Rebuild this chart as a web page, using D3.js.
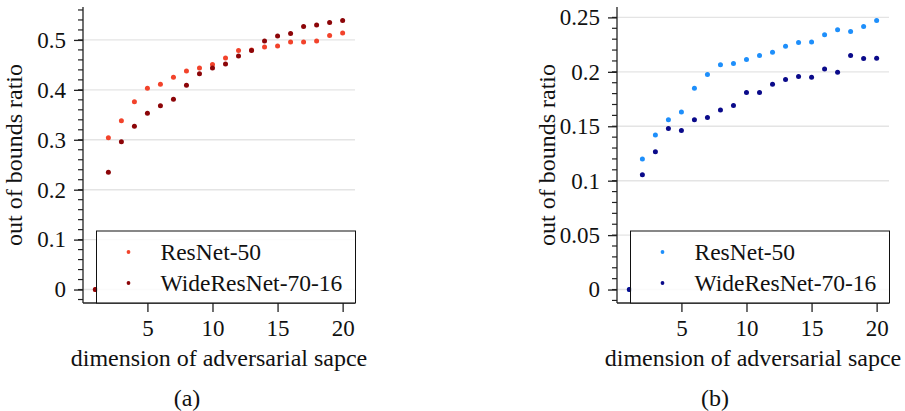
<!DOCTYPE html>
<html>
<head>
<meta charset="utf-8">
<script src="https://cdn.jsdelivr.net/npm/d3@7"></script>
<style>
  html, body { margin: 0; padding: 0; background: #fff; }
  svg { display: block; }
  svg text { font-family: "Liberation Serif", "DejaVu Serif", serif !important; fill: #111; }
</style>
</head>
<body>
<div id="chart"></div>
<script>
// dimension of adversarial space
const dims = [1, 2, 3, 4, 5, 6, 7, 8, 9, 10, 11, 12, 13, 14, 15, 16, 17, 18, 19, 20];

// (a) out of bounds ratio
const resnetA = [0, 0.304, 0.338, 0.376, 0.403, 0.411, 0.425, 0.438, 0.444, 0.451,
                 0.464, 0.479, 0.480, 0.486, 0.488, 0.496, 0.496, 0.498, 0.509, 0.514];
const wideA   = [0, 0.235, 0.296, 0.327, 0.353, 0.368, 0.381, 0.409, 0.432, 0.444,
                 0.452, 0.468, 0.479, 0.498, 0.508, 0.513, 0.527, 0.530, 0.535, 0.539];

// (b) out of bounds ratio
const resnetB = [0, 0.120, 0.142, 0.156, 0.163, 0.185, 0.1975, 0.2065, 0.2077, 0.2113,
                 0.215, 0.218, 0.2236, 0.227, 0.2273, 0.234, 0.2386, 0.237, 0.2417, 0.2472];
const wideB   = [0, 0.1055, 0.1267, 0.1479, 0.146, 0.156, 0.158, 0.165, 0.169, 0.181,
                 0.181, 0.1886, 0.193, 0.1957, 0.195, 0.2027, 0.1997, 0.215, 0.2123, 0.2125];

const seriesNames = ['ResNet-50', 'WideResNet-70-16'];
const xTicks = [5, 10, 15, 20];
const yTicksA = [0, 0.1, 0.2, 0.3, 0.4, 0.5];
const yTicksB = [0, 0.05, 0.1, 0.15, 0.2, 0.25];

const W = 905, H = 411;
const FONT = '"Liberation Serif", "DejaVu Serif", serif';

const svg = d3.select('#chart').append('svg')
    .attr('width', W)
    .attr('height', H);

svg.append('rect').attr('width', W).attr('height', H).attr('fill', '#fff');

function pad(ext) {
    const m = (ext[1] - ext[0]) * 0.05;
    return [ext[0] - m, ext[1] + m];
}

function label(sel, size) {
    return sel.style('font-family', FONT).style('font-size', size + 'px').style('fill', '#111');
}

function drawPanel(o) {
    const g = svg.append('g');
    const xs = d3.scaleLinear().domain(pad(d3.extent(dims))).range([o.left, o.right]);
    const yAll = o.series.flatMap(s => s.values);
    const ys = d3.scaleLinear().domain(pad(d3.extent(yAll))).range([o.bottom, o.top]);

    // grid
    g.append('g').selectAll('line')
        .data(o.yTicks)
        .enter()
        .append('line')
        .attr('x1', o.left).attr('x2', o.right)
        .attr('y1', d => ys(d)).attr('y2', d => ys(d))
        .attr('stroke', '#e4e4e4')
        .attr('stroke-width', 1.4);

    // minor y ticks
    const yd = ys.domain();
    const minor = d3.range(Math.ceil(yd[0] / o.minorStep - 1e-9), Math.floor(yd[1] / o.minorStep + 1e-9) + 1)
        .map(k => k * o.minorStep);
    g.append('g').selectAll('line')
        .data(minor)
        .enter()
        .append('line')
        .attr('x1', o.left - 5).attr('x2', o.left)
        .attr('y1', d => ys(d)).attr('y2', d => ys(d))
        .attr('stroke', '#222')
        .attr('stroke-width', 1.2);

    // y axis
    const yAxis = d3.axisLeft(ys).tickValues(o.yTicks).tickSize(9).tickPadding(8)
        .tickFormat(d => String(+d.toFixed(4)));
    const ya = g.append('g').attr('transform', `translate(${o.left},0)`).call(yAxis);
    ya.select('.domain').attr('d', `M0,${o.bottom}V${o.top}`);

    // x axis
    const xAxis = d3.axisBottom(xs).tickValues(xTicks).tickSize(9).tickPadding(8);
    const xa = g.append('g').attr('transform', `translate(0,${o.bottom})`).call(xAxis);
    xa.select('.domain').attr('d', `M${o.left},0H${o.right}`);

    [ya, xa].forEach(a => {
        a.attr('font-family', null).attr('font-size', null);
        a.selectAll('.domain').attr('stroke', '#222').attr('stroke-width', 1.3);
        a.selectAll('.tick line').attr('stroke', '#222').attr('stroke-width', 1.3);
        label(a.selectAll('.tick text'), 23);
    });

    // points
    o.series.forEach(s => {
        g.append('g').selectAll('circle')
            .data(dims.map((d, i) => [d, s.values[i]]))
            .enter()
            .append('circle')
            .attr('cx', d => xs(d[0]))
            .attr('cy', d => ys(d[1]))
            .attr('r', 2.5)
            .attr('fill', s.color);
    });

    // legend
    const lw = 259, lh = 72;
    const lx = o.right - lw + 0.5, ly = o.bottom - lh;
    const lg = g.append('g').attr('transform', `translate(${lx},${ly})`);
    lg.append('rect')
        .attr('width', lw).attr('height', lh)
        .attr('fill', 'rgba(255,255,255,0.85)')
        .attr('stroke', '#111')
        .attr('stroke-width', 1);
    o.series.forEach((s, i) => {
        const cy = 21 + i * 31;
        lg.append('circle').attr('cx', 32).attr('cy', cy).attr('r', 1.9).attr('fill', s.color);
        label(lg.append('text'), 23.5)
            .attr('x', 64).attr('y', cy)
            .attr('dy', '0.33em')
            .text(s.name);
    });

    // axis labels
    label(g.append('text'), 24)
        .attr('x', (o.left + o.right) / 2)
        .attr('y', 366)
        .attr('text-anchor', 'middle')
        .text('dimension of adversarial sapce');

    label(g.append('text'), 24)
        .attr('transform', `translate(${o.left - o.ylabelGap},${(o.top + o.bottom) / 2}) rotate(-90)`)
        .attr('text-anchor', 'middle')
        .text('out of bounds ratio');

    label(g.append('text'), 24)
        .attr('x', o.capX)
        .attr('y', 406)
        .attr('text-anchor', 'middle')
        .text(o.caption);
}

drawPanel({
    left: 83, right: 355, top: 7, bottom: 303,
    series: [
        { name: seriesNames[0], values: resnetA, color: '#f2432b' },
        { name: seriesNames[1], values: wideA, color: '#8c0508' }
    ],
    yTicks: yTicksA, minorStep: 0.02,
    ylabelGap: 61, caption: '(a)', capX: 187
});

drawPanel({
    left: 617, right: 889, top: 7, bottom: 303,
    series: [
        { name: seriesNames[0], values: resnetB, color: '#1e8ffb' },
        { name: seriesNames[1], values: wideB, color: '#0a0a8a' }
    ],
    yTicks: yTicksB, minorStep: 0.01,
    ylabelGap: 62, caption: '(b)', capX: 715
});
</script>
</body>
</html>
